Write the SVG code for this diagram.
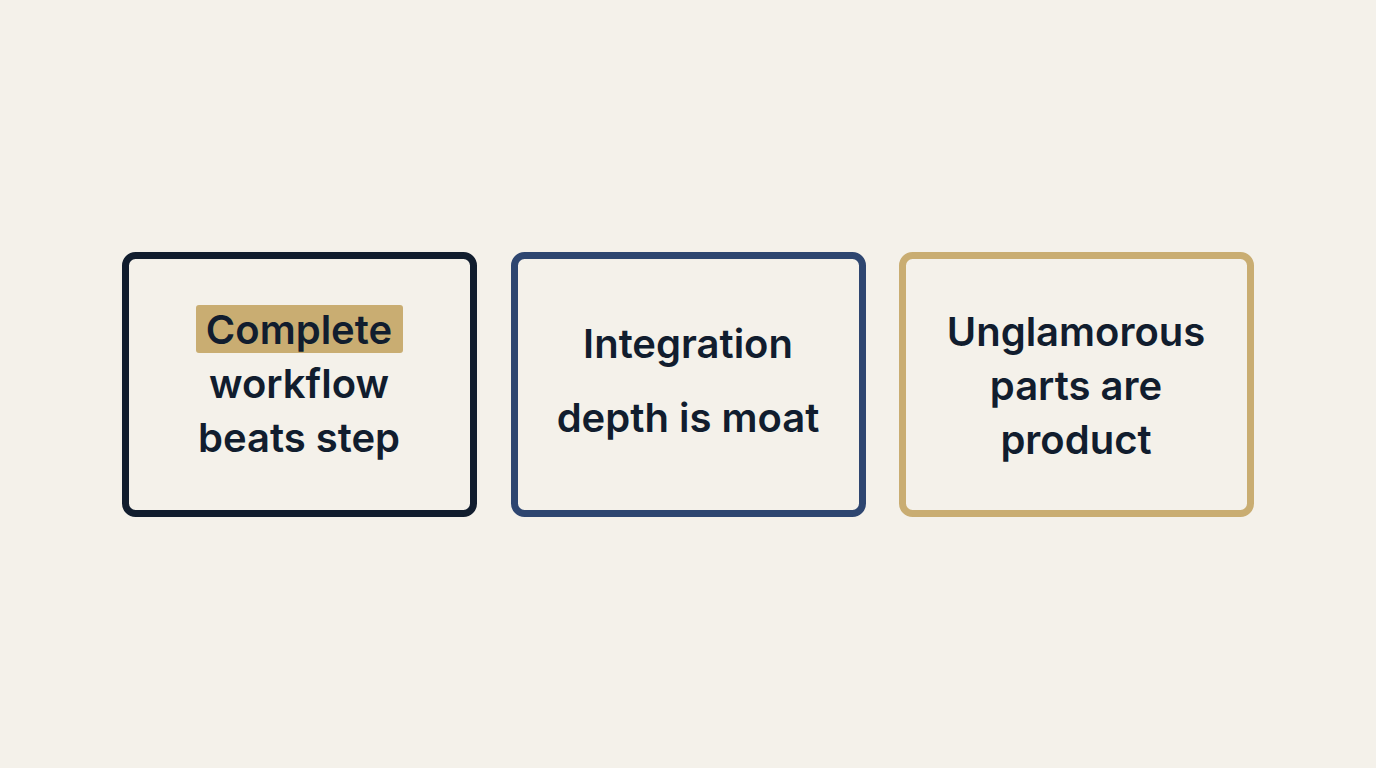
<svg xmlns="http://www.w3.org/2000/svg" width="1376" height="768" viewBox="0 0 1376 768">
<style>
.box{fill:#f4f1ea;stroke-width:7}
.t{font-family:Inter,"Liberation Sans",sans-serif;font-size:40px;font-weight:600;fill:#111d2e;text-anchor:middle}
</style>
<rect width="1376" height="768" fill="#f4f1ea"/>
<g id="n1">
<rect class="box" x="125.500" y="255.500" width="348" height="258" rx="10" stroke="#111d2e"/>
<rect x="196" y="305" width="207" height="48" rx="3" fill="#c9ad72"/>
<text class="t" x="299" y="344">Complete</text>
<text class="t" x="299" y="398">workflow</text>
<text class="t" x="299" y="452">beats step</text>
</g>
<g id="n2">
<rect class="box" x="514.500" y="255.500" width="348" height="258" rx="10" stroke="#2e4670"/>
<text class="t" x="688" y="358">Integration</text>
<text class="t" x="688" y="432">depth is moat</text>
</g>
<g id="n3">
<rect class="box" x="902.500" y="255.500" width="348" height="258" rx="10" stroke="#c9ad72"/>
<text class="t" x="1076" y="346">Unglamorous</text>
<text class="t" x="1076" y="400">parts are</text>
<text class="t" x="1076" y="454">product</text>
</g>
<g id="connectors"/>
</svg>
